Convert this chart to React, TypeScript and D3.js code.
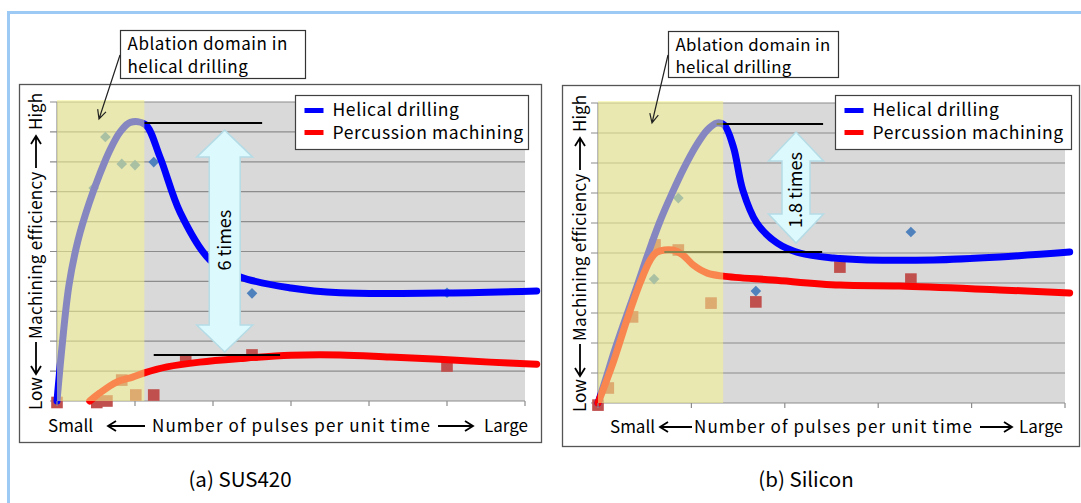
import React from 'react';
import * as d3 from 'd3';

const FONT = '"Noto Sans CJK JP", "Noto Sans", sans-serif';

// efficiency axis (arbitrary units, Low..High)
const yTicks = [0, 1, 2, 3, 4, 5, 6, 7, 8, 9, 10];
const susXTicks = [0, 1, 2, 3, 4, 5, 6];
const siXTicks = [0, 1, 2, 3, 4, 5];

// (a) SUS420 - smoothed trend lines
const susHelicalLine: [number, number][] = [
  [0, 0], [0.064, 1.81], [0.154, 3.88], [0.27, 5.38], [0.41, 6.6], [0.55, 7.6], [0.68, 8.4],
  [0.81, 9.0], [0.94, 9.32], [1.13, 9.25], [1.32, 8.16], [1.58, 6.3], [1.96, 4.72], [2.35, 4.15],
  [3.0, 3.78], [3.63, 3.62], [4.9, 3.61], [6.15, 3.68],
];
const susPercussionLine: [number, number][] = [
  [0.42, 0], [0.55, 0.27], [0.77, 0.64], [0.97, 0.8], [1.12, 0.94], [1.41, 1.14], [1.83, 1.3],
  [2.35, 1.42], [3.0, 1.53], [3.63, 1.54], [4.27, 1.47], [4.9, 1.4], [5.55, 1.3], [6.15, 1.23],
];
const susHelicalPoints: [number, number][] = [
  [0.47, 7.12], [0.62, 8.83], [0.83, 7.93], [1.0, 7.89], [1.24, 7.99], [2.5, 3.6], [5.0, 3.62],
];
const susPercussionPoints: [number, number][] = [
  [0, -0.05], [0.51, -0.05], [0.64, 0], [0.83, 0.7], [1.01, 0.2], [1.24, 0.2], [1.65, 1.37],
  [2.5, 1.54], [5.0, 1.17],
];

// (b) Silicon
const siHelicalLine: [number, number][] = [
  [0, 0], [0.086, 0.83], [0.18, 1.77], [0.29, 2.77], [0.41, 3.83], [0.535, 4.97], [0.66, 6.03],
  [0.79, 6.97], [0.92, 7.83], [1.05, 8.57], [1.17, 9.1], [1.27, 9.33], [1.35, 9.27], [1.45, 8.53],
  [1.55, 7.1], [1.7, 6.0], [1.92, 5.33], [2.16, 5.0], [2.52, 4.83], [2.88, 4.77], [3.59, 4.77],
  [4.3, 4.87], [5.05, 5.03],
];
const siPercussionLine: [number, number][] = [
  [0, 0], [0.16, 1.33], [0.31, 2.77], [0.45, 4.0], [0.56, 4.77], [0.63, 5.03], [0.8, 5.1],
  [0.91, 4.93], [1.02, 4.6], [1.17, 4.33], [1.34, 4.23], [1.87, 4.1], [2.59, 3.93], [3.23, 3.9],
  [4.3, 3.77], [5.05, 3.67],
];
const siHelicalPoints: [number, number][] = [[0.6, 4.13], [0.86, 6.83], [1.69, 3.73], [3.35, 5.7]];
const siPercussionPoints: [number, number][] = [
  [0, -0.07], [0.11, 0.5], [0.37, 2.87], [0.61, 5.27], [0.86, 5.1], [1.21, 3.33], [1.69, 3.37],
  [2.59, 4.53], [3.35, 4.13],
];

const legendLabels = ['Helical drilling', 'Percussion machining'];
const calloutLines = ['Ablation domain in', 'helical drilling'];
const xLabelParts = ['Small', 'Number of pulses per unit time', 'Large'];
const yLabelParts = ['Low', 'Machining efficiency', 'High'];
const captions = ['(a) SUS420', '(b) Silicon'];
const ratioLabels = ['6 times', '1.8 times'];
const ablationEnd = [1.12, 1.34];
// guide lines [x0, x1, y]
const susGuides = [[1.12, 2.63, 9.3], [1.24, 2.86, 1.54]];
const siGuides = [[1.27, 2.41, 9.3], [0.71, 2.4, 5.03]];
// ratio arrow [x, top, bottom, label y]
const susRatio = [2.15, 9.06, 1.64, 5.38];
const siRatio = [2.12, 9.03, 5.33, 7.1];

const BLUE = '#0000ff';
const RED = '#ff0000';

const panels = [
  {
    box: { x: 19.5, y: 84.5, w: 522, h: 358 },
    plot: { left: 57, right: 525, top: 102, bottom: 401 },
    xTicks: susXTicks, xMax: 6,
    helical: susHelicalLine, percussion: susPercussionLine,
    helicalPts: susHelicalPoints, percussionPts: susPercussionPoints,
    ablation: ablationEnd[0], guides: susGuides, ratio: susRatio, ratioLabel: ratioLabels[0],
    head: { hw: 28, hl: 27, sw: 15.5 },
    yLab: { x: 42, bottom: 410 },
    xLab: { y: 432, small: 48, a1: [108, 145], num: 152, a2: [438, 473], large: 528 },
    legend: { x: 295.5, y: 95.5, w: 233, h: 54 },
    callout: { x: 120.5, y: 30.5, w: 185, h: 48, fs: 17, ls: 0.55, gap: 23, from: [120, 55], to: [99, 119] },
    caption: { x: 240, text: captions[0] },
  },
  {
    box: { x: 562.5, y: 85.5, w: 517, h: 361 },
    plot: { left: 598, right: 1065, top: 103, bottom: 403 },
    xTicks: siXTicks, xMax: 5,
    helical: siHelicalLine, percussion: siPercussionLine,
    helicalPts: siHelicalPoints, percussionPts: siPercussionPoints,
    ablation: ablationEnd[1], guides: siGuides, ratio: siRatio, ratioLabel: ratioLabels[1],
    head: { hw: 27.5, hl: 29, sw: 14 },
    yLab: { x: 586, bottom: 412 },
    xLab: { y: 433, small: 610, a1: [660, 692], num: 694, a2: [980, 1012], large: 1063 },
    legend: { x: 835.5, y: 95.5, w: 236, h: 54 },
    callout: { x: 668.5, y: 31.5, w: 170, h: 46, fs: 16.8, ls: 0.35, gap: 22.5, from: [668, 55], to: [652, 123] },
    caption: { x: 806, text: captions[1] },
  },
];

function Arrow({ x0, x1, y, dir }: { x0: number; x1: number; y: number; dir: number }) {
  const tip = dir > 0 ? x1 : x0;
  return (
    <path
      d={`M${x0},${y}L${x1},${y}M${tip - dir * 8},${y - 5}L${tip},${y}L${tip - dir * 8},${y + 5}`}
      fill="none" stroke="#000" strokeWidth={1.8}
    />
  );
}

function Panel({ c }: { c: any }) {
  const x = d3.scaleLinear().domain([0, c.xMax]).range([c.plot.left, c.plot.right]);
  const y = d3.scaleLinear().domain([0, 10]).range([c.plot.bottom, c.plot.top]);
  const line = d3.line<[number, number]>()
    .x(d => x(d[0])).y(d => y(d[1]))
    .curve(d3.curveCatmullRom.alpha(0.5));
  const diamond = d3.symbol().type(d3.symbolDiamond2).size(72)();
  const square = d3.symbol().type(d3.symbolSquare).size(135)();

  const [rx, rTop, rBot, rLab] = c.ratio;
  const ax = x(rx), t = y(rTop), b = y(rBot);
  const { hw, hl, sw } = c.head;
  const arrowPts: [number, number][] = [
    [ax, t], [ax + hw, t + hl], [ax + sw, t + hl], [ax + sw, b - hl], [ax + hw, b - hl],
    [ax, b], [ax - hw, b - hl], [ax - sw, b - hl], [ax - sw, t + hl], [ax - hw, t + hl],
  ];

  const co = c.callout;
  const ang = Math.atan2(co.to[1] - co.from[1], co.to[0] - co.from[0]);
  const hx = (a: number) => co.to[0] - 10 * Math.cos(ang + a);
  const hy = (a: number) => co.to[1] - 10 * Math.sin(ang + a);

  return (
    <g>
      <rect x={c.box.x} y={c.box.y} width={c.box.w} height={c.box.h} fill="#fff" stroke="#555" strokeWidth={1.3} />
      {/* plot background and grid */}
      <rect x={c.plot.left} y={c.plot.top} width={c.plot.right - c.plot.left} height={c.plot.bottom - c.plot.top} fill="#d9d9d9" />
      {yTicks.map(v => (
        <line key={v} x1={c.plot.left - 7} x2={c.plot.right} y1={y(v)} y2={y(v)} stroke="#8c8c8c" strokeWidth={1.2} />
      ))}
      <line x1={c.plot.left} x2={c.plot.left} y1={c.plot.top} y2={c.plot.bottom} stroke="#8c8c8c" strokeWidth={1.2} />
      {/* measured points */}
      {c.helicalPts.map((p: [number, number], i: number) => (
        <path key={'d' + i} d={diamond!} transform={`translate(${x(p[0])},${y(p[1])})`} fill="#4f81bd" />
      ))}
      {c.percussionPts.map((p: [number, number], i: number) => (
        <path key={'s' + i} d={square!} transform={`translate(${x(p[0])},${y(p[1])})`} fill="#c0504d" />
      ))}
      {/* trend lines */}
      <path d={line(c.helical)!} fill="none" stroke={BLUE} strokeWidth={7} strokeLinecap="round" />
      <path d={line(c.percussion)!} fill="none" stroke={RED} strokeWidth={7} strokeLinecap="round" />
      {c.guides.map((g: number[], i: number) => (
        <line key={'g' + i} x1={x(g[0])} x2={x(g[1])} y1={y(g[2])} y2={y(g[2])} stroke="#000" strokeWidth={2} />
      ))}
      {/* ablation domain */}
      <rect x={c.plot.left} y={c.plot.top - 2} width={x(c.ablation) - c.plot.left} height={c.plot.bottom - c.plot.top + 2}
        fill="#f4f48e" fillOpacity={0.55} />
      {/* x ticks */}
      {c.xTicks.map((v: number) => (
        <line key={'t' + v} x1={x(v)} x2={x(v)} y1={c.plot.bottom} y2={c.plot.bottom + 5} stroke="#8c8c8c" strokeWidth={1.2} />
      ))}
      {/* ratio arrow */}
      <polygon points={arrowPts.map(p => p.join(',')).join(' ')} fill="#dcf9fd" stroke="#b5dce6" strokeWidth={1.5} />
      <text x={ax} y={y(rLab)} dy="0.35em" textAnchor="middle" fontSize={18} fontFamily={FONT}
        transform={`rotate(-90,${ax},${y(rLab)})`}>{c.ratioLabel}</text>
      {/* legend */}
      <rect x={c.legend.x} y={c.legend.y} width={c.legend.w} height={c.legend.h} fill="#fff" stroke="#404040" strokeWidth={1.2} />
      {legendLabels.map((l, i) => (
        <g key={l}>
          <line x1={c.legend.x + 9} x2={c.legend.x + 28} y1={c.legend.y + 15 + i * 22} y2={c.legend.y + 15 + i * 22}
            stroke={i === 0 ? BLUE : RED} strokeWidth={5} />
          <text x={c.legend.x + 37} y={c.legend.y + 20.5 + i * 23} fontSize={17.5} letterSpacing={0.6} fontFamily={FONT}>{l}</text>
        </g>
      ))}
      {/* axis titles */}
      <g transform={`translate(${c.yLab.x},${c.yLab.bottom}) rotate(-90)`} fontFamily={FONT} fontSize={17}>
        <text x={0} y={0}>{yLabelParts[0]}</text>
        <Arrow x0={36} x1={68} y={-6} dir={-1} />
        <text x={71} y={0} letterSpacing={0.3}>{yLabelParts[1]}</text>
        <Arrow x0={242} x1={274} y={-6} dir={1} />
        <text x={317} y={0} textAnchor="end">{yLabelParts[2]}</text>
      </g>
      <g fontFamily={FONT} fontSize={17}>
        <text x={c.xLab.small} y={c.xLab.y}>{xLabelParts[0]}</text>
        <Arrow x0={c.xLab.a1[0]} x1={c.xLab.a1[1]} y={c.xLab.y - 6} dir={-1} />
        <text x={c.xLab.num} y={c.xLab.y} textLength={278} lengthAdjust="spacing">{xLabelParts[1]}</text>
        <Arrow x0={c.xLab.a2[0]} x1={c.xLab.a2[1]} y={c.xLab.y - 6} dir={1} />
        <text x={c.xLab.large} y={c.xLab.y} textAnchor="end">{xLabelParts[2]}</text>
      </g>
      {/* callout */}
      <rect x={co.x} y={co.y} width={co.w} height={co.h} fill="#fff" stroke="#333" strokeWidth={1.2} />
      {calloutLines.map((l, i) => (
        <text key={l} x={co.x + 7} y={co.y + 19 + i * co.gap} fontSize={co.fs} letterSpacing={co.ls} fontFamily={FONT}>{l}</text>
      ))}
      <path d={`M${co.from[0]},${co.from[1]}L${co.to[0]},${co.to[1]}M${hx(0.45)},${hy(0.45)}L${co.to[0]},${co.to[1]}L${hx(-0.45)},${hy(-0.45)}`}
        fill="none" stroke="#222" strokeWidth={1.2} />
      <text x={c.caption.x} y={487} textAnchor="middle" fontSize={20.5} fontFamily={FONT}>{c.caption.text}</text>
    </g>
  );
}

export default function App() {
  return (
    <svg width={1081} height={503} style={{ position: 'absolute', left: 0, top: 0, background: '#fff' }}>
      <line x1={7} x2={1081} y1={12.5} y2={12.5} stroke="#9ccaf4" strokeWidth={3} />
      <line x1={8.5} x2={8.5} y1={11} y2={503} stroke="#9ccaf4" strokeWidth={3} />
      {panels.map((p, i) => <Panel key={i} c={p} />)}
    </svg>
  );
}
